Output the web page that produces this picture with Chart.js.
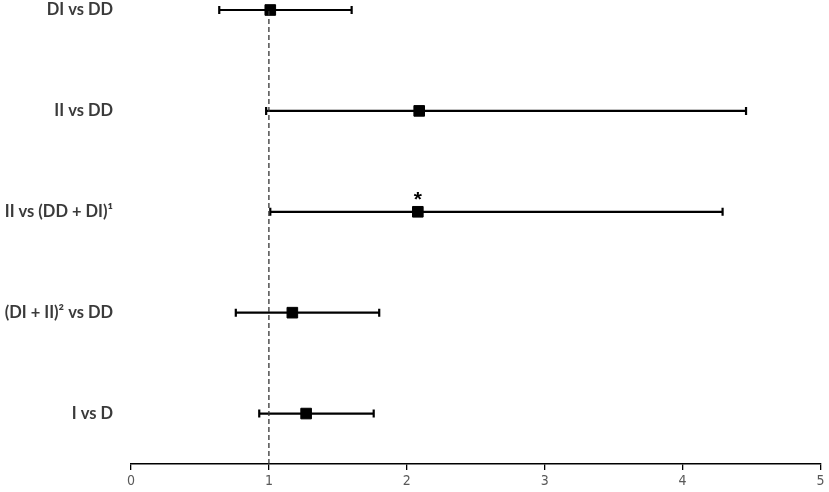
<!DOCTYPE html>
<html>
<head>
<meta charset="utf-8">
<script src="https://cdn.jsdelivr.net/npm/chart.js@4.4.1/dist/chart.umd.min.js"></script>
<style>
  html, body { margin: 0; padding: 0; background: #fff; }
  #forest { display: block; }
</style>
</head>
<body>
<canvas id="forest" width="829" height="492"></canvas>
<script>
const comparisons = ['DI vs DD', 'II vs DD', 'II vs (DD + DI)\u00b9', '(DI + II)\u00b2 vs DD', 'I vs D'];
const estimates = [1.01, 2.09, 2.08, 1.17, 1.27];
const lowerCI = [0.64, 0.98, 1.01, 0.76, 0.93];
const upperCI = [1.60, 4.46, 4.29, 1.80, 1.76];
const significant = [false, false, true, false, false];
const xTicks = [0, 1, 2, 3, 4, 5];
const refValue = 1;

// row position: first comparison at the top
const rowPos = i => comparisons.length - i;

const points = estimates.map((v, i) => ({ x: v, y: rowPos(i) }));

const errorBars = {
  id: 'errorBars',
  beforeDatasetsDraw(chart) {
    const ctx = chart.ctx;
    const xs = chart.scales.x, ys = chart.scales.y;
    ctx.save();
    ctx.strokeStyle = '#000';
    ctx.lineWidth = 2.2;
    comparisons.forEach((c, i) => {
      const y = ys.getPixelForValue(rowPos(i));
      const x1 = xs.getPixelForValue(lowerCI[i]);
      const x2 = xs.getPixelForValue(upperCI[i]);
      ctx.beginPath();
      ctx.moveTo(x1, y); ctx.lineTo(x2, y);
      ctx.moveTo(x1, y - 4); ctx.lineTo(x1, y + 4);
      ctx.moveTo(x2, y - 4); ctx.lineTo(x2, y + 4);
      ctx.stroke();
    });
    ctx.restore();
  },
  afterDatasetsDraw(chart) {
    const ctx = chart.ctx;
    const xs = chart.scales.x, ys = chart.scales.y;
    ctx.save();
    ctx.fillStyle = '#000';
    ctx.font = 'bold 21px "Liberation Sans", sans-serif';
    ctx.textAlign = 'center';
    ctx.textBaseline = 'middle';
    significant.forEach((s, i) => {
      if (!s) return;
      ctx.fillText('*', xs.getPixelForValue(estimates[i]), ys.getPixelForValue(rowPos(i)) - 12);
    });
    ctx.restore();
  }
};

new Chart(document.getElementById('forest'), {
  type: 'scatter',
  data: {
    datasets: [
      {
        type: 'line',
        data: [{ x: refValue, y: 0.5 }, { x: refValue, y: 5 }],
        borderColor: '#333',
        borderWidth: 1.3,
        borderDash: [5, 3],
        pointRadius: 0,
        fill: false
      },
      {
        data: points,
        pointStyle: 'rect',
        pointRadius: 7.5,
        pointBackgroundColor: '#000',
        pointBorderColor: '#000',
        pointBorderWidth: 1,
        clip: false
      }
    ]
  },
  options: {
    responsive: false,
    animation: false,
    layout: { padding: { top: 10, right: 7, bottom: 0, left: 0 } },
    plugins: { legend: { display: false }, tooltip: { enabled: false } },
    scales: {
      x: {
        type: 'linear',
        min: 0,
        max: 5,
        afterBuildTicks: s => { s.ticks = xTicks.map(v => ({ value: v })); },
        afterFit: s => { s.height = 28; },
        grid: { display: true, drawOnChartArea: false, drawTicks: true, tickLength: 6, color: '#000', lineWidth: 1.3 },
        border: { display: true, color: '#000', width: 1.5 },
        ticks: {
          color: '#595959',
          padding: 3,
          font: { family: '"Liberation Sans Narrow", "DejaVu Sans Condensed", sans-serif', size: 14 }
        }
      },
      y: {
        type: 'linear',
        min: 0.5,
        max: 5,
        afterBuildTicks: s => { s.ticks = comparisons.map((c, i) => ({ value: rowPos(i) })); },
        afterFit: s => { s.width = 131; s.paddingTop = 0; s.paddingBottom = 0; },
        grid: { display: false },
        border: { display: false },
        ticks: {
          padding: 10,
          color: '#3a3a3a',
          font: { family: 'Lato, "Open Sans", sans-serif', size: 16.5, weight: 'bold' },
          callback: v => comparisons[comparisons.length - v]
        }
      }
    }
  },
  plugins: [errorBars]
});
</script>
</body>
</html>
